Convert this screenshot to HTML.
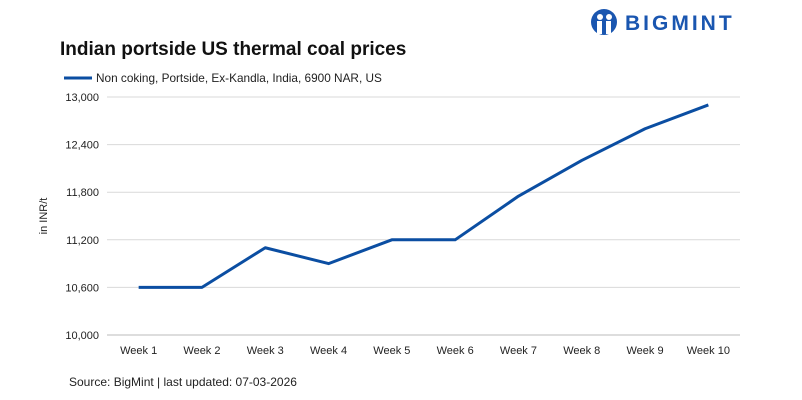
<!DOCTYPE html>
<html><head><meta charset="utf-8"><style>
body{margin:0;background:#fff;font-family:"Liberation Sans",sans-serif;}
svg{display:block}
</style></head><body>
<svg width="802" height="400" id="chart">
<g>
<circle cx="604" cy="22" r="13" fill="#1a56b0"/>
<circle cx="600" cy="17" r="3" fill="#fff"/><circle cx="609" cy="17" r="3" fill="#fff"/>
<rect x="597" y="21" width="5" height="13" fill="#fff"/><rect x="606" y="21" width="5" height="13" fill="#fff"/>
<text x="625" y="30" font-size="21" font-weight="bold" fill="#1a56b0" letter-spacing="3">BIGMINT</text>
</g>
<text x="60" y="55" font-size="19" font-weight="bold" fill="#111">Indian portside US thermal coal prices</text>
<g>
<line x1="64" y1="78" x2="92" y2="78" stroke="#0b4ea2" stroke-width="3"/>
<text x="96" y="82" font-size="11.8" fill="#222">Non coking, Portside, Ex-Kandla, India, 6900 NAR, US</text>
</g>
<text transform="translate(47,216) rotate(-90)" text-anchor="middle" font-size="11" fill="#222">in INR/t</text>
<g id="grid"></g><g id="yt"></g><g id="xt"></g><g id="series"></g>
<text x="69" y="386" font-size="12" fill="#222">Source: BigMint | last updated: 07-03-2026</text>
</svg>
<script>
const categories=["Week 1","Week 2","Week 3","Week 4","Week 5","Week 6","Week 7","Week 8","Week 9","Week 10"];
const values=[10600,10600,11100,10900,11200,11200,11750,12200,12600,12900];
const yTicks=[10000,10600,11200,11800,12400,13000];
const ns="http://www.w3.org/2000/svg";
const x0=107,x1=740,yTop=97,yBot=335,yMin=10000,yMax=13000;
const step=(x1-x0)/categories.length;
const X=i=>x0+step*(i+0.5);
const Y=v=>yBot-(v-yMin)/(yMax-yMin)*(yBot-yTop);
function mk(t,a,p){const e=document.createElementNS(ns,t);for(const k in a)e.setAttribute(k,a[k]);p.appendChild(e);return e;}
const grid=document.getElementById('grid'),yt=document.getElementById('yt'),xt=document.getElementById('xt'),ser=document.getElementById('series');
yTicks.forEach(v=>{
const l=mk('line',{x1:x0,x2:x1,y1:Y(v),y2:Y(v),stroke:v===yMin?'#bbb':'#d9d9d9','stroke-width':1},grid);


const t=mk('text',{x:99,y:Y(v)+4,'text-anchor':'end','font-size':11,fill:'#222'},yt);
t.textContent=v.toLocaleString('en-US');


});
categories.forEach((c,i)=>{
const t=mk('text',{x:X(i),y:354,'text-anchor':'middle','font-size':11,fill:'#222'},xt);
t.textContent=c;


});
const p=mk('polyline',{points:values.map((v,i)=>X(i)+','+Y(v)).join(' '),fill:'none',stroke:'#0b4ea2','stroke-width':3,'stroke-linejoin':'round'},ser);


</script>
</body></html>
